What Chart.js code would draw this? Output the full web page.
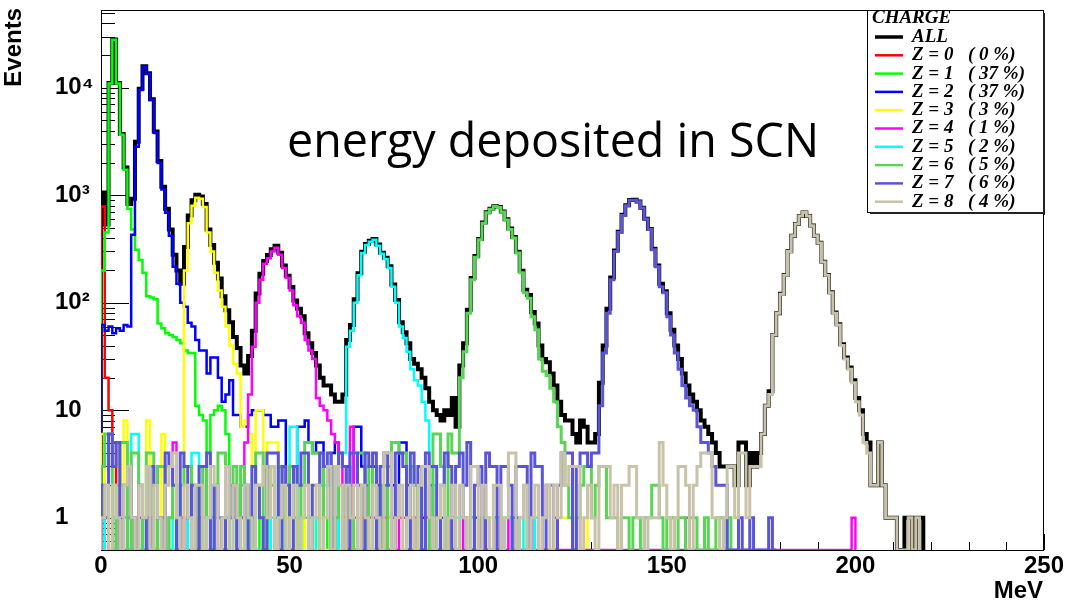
<!DOCTYPE html>
<html>
<head>
<meta charset="utf-8">
<title>energy deposited in SCN</title>
<script src="https://cdn.jsdelivr.net/npm/chart.js@4.4.1/dist/chart.umd.min.js"></script>
<style>
  html, body { margin: 0; padding: 0; background: #ffffff; }
  #wrap { position: relative; width: 1067px; height: 606px; }
</style>
</head>
<body>
<div id="wrap"><canvas id="chartCharge"></canvas></div>
<script>
  // histograms with 1 MeV bins, bin i covers [i, i+1) MeV
  const binWidth = 1;

  const allCounts = [
    1060, 535, 11100, 28100, 11100, 3720, 1810, 830, 930, 3150,
    9830, 15900, 13650, 7830, 3920, 2080, 1200, 750, 480, 280,
    200, 150, 330, 650, 900, 1010, 975, 830, 480, 345,
    235, 168, 115, 85, 66, 48, 38, 26, 22, 32,
    55, 122, 186, 245, 278, 315, 340, 292, 222, 178,
    140, 105, 88, 75, 52, 42, 34, 26, 20, 17,
    17, 14, 12, 12, 14, 45, 62, 108, 188, 298,
    352, 378, 392, 348, 292, 262, 218, 148, 106, 66,
    53, 42, 30, 27, 24, 20, 16, 12, 10, 9,
    8, 10, 9, 13, 7, 26, 42, 86, 170, 272,
    392, 558, 695, 748, 792, 778, 708, 598, 490, 408,
    298, 198, 132, 118, 82, 64, 40, 30, 28, 22,
    17, 12, 9, 8, 8, 6, 5, 8, 7, 5,
    5, 6, 18, 40, 88, 172, 306, 458, 658, 806,
    906, 908, 876, 766, 606, 486, 318, 222, 150, 128,
    80, 56, 40, 30, 22, 17, 14, 12, 10, 8,
    7, 6, 5, 4, 3, 3, 3, 3, 2, 5,
    5, 2, 4, 3, 4, 6, 11, 15, 50, 80,
    121, 181, 301, 421, 541, 641, 692, 642, 522, 421,
    361, 241, 181, 125, 81, 63, 41, 31, 25, 19,
    13, 10, 6, 5, 2, 2, 5, 2, 1, 1,
    1, 0, 0, 1, 1, 0, 1, 1
  ];

  const z0Counts = [
    785, 20, 10, 5, 2, 0, 1, 0, 0, 1,
    0, 0, 1, 0, 0, 0, 1, 0, 0, 0,
    0, 1, 0, 0, 0, 0, 1
  ];

  const z1Counts = [
    200, 450, 11000, 28000, 11000, 3650, 1730, 750, 480, 311,
    250, 190, 115, 112, 108, 64, 58, 52, 50, 48,
    45, 42, 36, 34, 34, 11, 9, 8, 4, 9,
    10, 11, 10, 6, 2, 2, 1, 2, 1, 0,
    1, 0, 1, 1, 0, 2, 1, 0, 1, 0,
    0, 1, 0, 0, 1, 0, 1, 0, 0, 1,
    0, 0, 1, 0, 0, 0, 1, 0, 0, 0,
    1, 0, 0, 0, 0, 1, 0, 0, 0, 0,
    0, 0, 1, 0, 0, 0, 0, 0, 1, 0,
    0, 0, 0, 0, 0, 0, 1, 1
  ];

  const z2Counts = [
    62, 55, 60, 52, 58, 55, 62, 60, 430, 2830,
    9560, 15700, 13500, 7700, 3800, 2000, 1130, 687, 420, 216,
    150, 100, 92, 65, 60, 45, 36, 36, 22, 31,
    31, 20, 12, 14, 19, 9, 9, 7, 7, 9,
    10, 10, 10, 9, 9, 7, 7, 8, 8, 2,
    1, 3, 7, 7, 8, 5, 4, 5, 5, 3,
    2, 4, 5, 2, 1, 3, 2, 7, 7, 3,
    2, 1, 3, 2, 1, 2, 1, 2, 1, 5,
    5, 2, 1, 1, 2, 1, 1, 2, 1, 0,
    1, 0, 1, 1, 0, 2, 1, 0, 0, 1,
    0, 1, 0, 0, 1, 1, 0, 0, 0, 1,
    1
  ];

  const z3Counts = [
    6, 1, 0, 1, 0, 0, 8, 1, 0, 1,
    0, 1, 8, 1, 0, 0, 6, 0, 1, 0,
    1, 0, 200, 550, 800, 948, 930, 780, 450, 300,
    190, 130, 92, 60, 40, 27, 22, 7, 8, 6,
    3, 10, 10, 2, 5, 5, 5, 1, 2, 1,
    1, 0, 1, 0, 2, 2, 1, 0, 1, 0,
    0, 1, 0, 0, 1, 0, 0, 2, 1, 0,
    1, 0, 0, 1, 0, 0, 1, 0, 0, 1,
    0, 0, 1, 0, 1, 0, 0, 0, 1, 0,
    0, 1, 0, 1, 1, 0, 0, 1, 0, 0,
    1, 0, 0, 1, 0, 0, 1, 0, 0, 0,
    0, 1, 0, 0, 0, 1, 0, 0, 0, 0,
    0, 1, 1, 1, 1, 0, 0, 0, 1
  ];

  const z4Counts = [
    0, 1, 0, 0, 1, 0, 0, 1, 0, 0,
    1, 0, 0, 1, 0, 1, 0, 0, 1, 5,
    0, 1, 0, 1, 0, 0, 1, 3, 0, 1,
    0, 1, 0, 0, 1, 1, 0, 1, 5, 14,
    39, 100, 164, 230, 260, 300, 325, 280, 210, 170,
    130, 95, 75, 65, 45, 36, 30, 13, 11, 10,
    8, 6, 5, 4, 0, 0, 7, 1, 0, 1,
    0, 1, 1, 0, 0, 1, 0, 1, 0, 1,
    1, 0, 0, 1, 0, 0, 1, 0, 0, 1,
    0, 0, 1, 0, 0, 1, 0, 0, 1, 0,
    0, 1, 0, 0, 1, 0, 0, 0, 1, 0,
    0, 0, 0, 0, 1, 0, 0, 0, 0, 0,
    1, 0, 0, 0, 0, 0, 1, 0, 0, 0,
    0, 0, 0, 0, 0, 0, 0, 0, 0, 0,
    0, 0, 0, 0, 0, 0, 0, 0, 0, 0,
    0, 0, 0, 0, 0, 1, 0, 0, 0, 0,
    0, 0, 0, 0, 0, 0, 0, 0, 0, 0,
    0, 0, 0, 0, 0, 0, 0, 0, 0, 0,
    0, 0, 0, 0, 0, 0, 0, 0, 0, 0,
    0, 0, 0, 0, 0, 0, 0, 0, 0, 1
  ];

  const z5Counts = [
    0, 1, 0, 1, 0, 0, 1, 0, 6, 6,
    0, 1, 0, 1, 0, 1, 0, 0, 1, 0,
    1, 0, 0, 1, 4, 4, 0, 1, 0, 1,
    0, 0, 1, 1, 0, 1, 0, 0, 1, 0,
    1, 0, 0, 1, 0, 1, 1, 0, 0, 0,
    7, 7, 1, 2, 2, 1, 0, 1, 2, 2,
    2, 1, 0, 4, 4, 39, 55, 100, 180, 290,
    345, 370, 385, 340, 285, 255, 210, 141, 100, 60,
    47, 35, 24, 19, 17, 12, 8, 3, 2, 1,
    0, 1, 1, 0, 1, 1, 1, 0, 1, 0,
    0, 1, 1, 0, 1, 1, 0, 1, 1, 0,
    0, 1, 0, 1, 0, 1
  ];

  const z6Counts = [
    3, 6, 6, 0, 2, 5, 5, 0, 4, 4,
    2, 0, 4, 4, 0, 3, 3, 0, 1, 2,
    0, 2, 3, 3, 0, 2, 0, 3, 1, 0,
    2, 4, 4, 0, 1, 3, 0, 3, 2, 0,
    1, 4, 4, 0, 3, 2, 0, 3, 2, 0,
    3, 3, 0, 2, 5, 5, 4, 4, 0, 3,
    3, 0, 1, 2, 0, 2, 1, 0, 4, 4,
    0, 3, 2, 0, 2, 0, 3, 5, 5, 4,
    4, 0, 3, 2, 0, 3, 3, 0, 6, 6,
    3, 0, 6, 4, 4, 20, 35, 80, 164, 265,
    385, 550, 687, 740, 785, 770, 700, 590, 480, 400,
    290, 190, 124, 110, 74, 56, 30, 23, 21, 16,
    12, 7, 5, 2, 1, 0, 1, 2, 3, 3,
    1, 2, 3, 3, 1, 1, 1, 0, 1, 1,
    0, 1, 1, 0, 1, 1, 2, 2, 1, 0,
    1, 1, 0, 1, 1, 0, 1, 1, 0, 0,
    1, 0, 0, 1, 1, 0, 1
  ];

  const z7Counts = [
    2, 1, 6, 3, 5, 0, 2, 3, 1, 0,
    2, 1, 0, 3, 2, 1, 0, 4, 3, 2,
    0, 4, 3, 1, 2, 0, 3, 3, 4, 0,
    2, 1, 0, 3, 1, 2, 0, 1, 2, 0,
    3, 2, 1, 0, 4, 4, 4, 0, 3, 2,
    0, 3, 2, 4, 4, 0, 2, 2, 4, 3,
    4, 0, 3, 4, 3, 0, 4, 4, 2, 0,
    4, 3, 4, 0, 3, 4, 2, 0, 4, 4,
    3, 0, 4, 2, 3, 0, 4, 3, 3, 0,
    2, 4, 3, 0, 3, 4, 2, 5, 0, 2,
    3, 0, 4, 3, 3, 0, 3, 3, 2, 0,
    3, 3, 3, 0, 4, 3, 3, 0, 2, 2,
    0, 2, 4, 4, 4, 0, 3, 4, 4, 3,
    4, 4, 11, 34, 80, 164, 300, 450, 650, 800,
    900, 900, 870, 760, 600, 480, 311, 216, 141, 124,
    74, 50, 34, 24, 17, 13, 11, 10, 7, 5,
    5, 4, 3, 2, 2, 2, 0, 0, 0, 1,
    0, 0, 1, 0, 0, 0, 0, 1, 0
  ];

  const z8Counts = [
    1, 2, 0, 2, 1, 0, 2, 3, 1, 0,
    2, 1, 3, 0, 2, 1, 0, 2, 3, 4,
    1, 0, 2, 1, 0, 2, 2, 0, 1, 3,
    2, 0, 1, 3, 0, 2, 1, 0, 2, 1,
    0, 2, 2, 3, 1, 3, 0, 1, 2, 0,
    1, 2, 0, 1, 2, 0, 1, 2, 0, 1,
    3, 0, 3, 2, 0, 2, 1, 2, 0, 2,
    1, 0, 2, 1, 0, 4, 4, 0, 1, 2,
    0, 1, 2, 0, 2, 3, 3, 1, 0, 1,
    2, 0, 1, 2, 0, 2, 1, 0, 3, 3,
    0, 2, 1, 0, 2, 2, 0, 1, 4, 4,
    0, 1, 2, 0, 1, 2, 0, 1, 2, 0,
    2, 1, 4, 2, 3, 3, 3, 0, 1, 2,
    1, 0, 3, 3, 3, 1, 2, 0, 2, 2,
    3, 3, 1, 1, 0, 1, 1, 1, 5, 2,
    1, 0, 1, 3, 3, 2, 0, 2, 3, 4,
    4, 4, 1, 1, 0, 1, 3, 3, 1, 4,
    4, 1, 3, 3, 3, 6, 11, 14, 50, 80,
    120, 180, 300, 420, 540, 640, 690, 640, 520, 420,
    360, 240, 180, 124, 80, 62, 40, 30, 24, 18,
    12, 9, 5, 4, 2, 2, 5, 2, 1, 1,
    1, 0, 0, 0, 1, 0, 1
  ];

  const seriesCounts = [allCounts, z0Counts, z1Counts, z2Counts, z3Counts,
    z4Counts, z5Counts, z6Counts, z7Counts, z8Counts];
  const seriesLabels = ["ALL", "Z = 0", "Z = 1", "Z = 2", "Z = 3",
    "Z = 4", "Z = 5", "Z = 6", "Z = 7", "Z = 8"];
  const seriesShares = ["", "( 0 %)", "( 37 %)", "( 37 %)", "( 3 %)",
    "( 1 %)", "( 2 %)", "( 5 %)", "( 6 %)", "( 4 %)"];

  const xTickValues = [0, 50, 100, 150, 200, 250];
  const xTickLabels = ["0", "50", "100", "150", "200", "250"];
  const yTickValues = [1, 10, 100, 1000, 10000];
  const yTickLabels = ["1", "10", "10²", "10³", "10⁴"];

  // styles
  const seriesColors = ["#000000", "#ff0000", "#00ff00", "#0000ff", "#ffff00",
    "#ff00ff", "#00ffff", "#59d454", "#5954d9", "#c8c2a8"];
  const seriesWidths = [4, 2.5, 2.5, 2.5, 2.5, 2.5, 2.5, 3, 3, 3];

  const xMin = 0, xMax = 250;
  const yMin = 0.5, yMax = 53000;

  const axisFont = { family: "'Liberation Sans', Arial, sans-serif", size: 24, weight: "bold" };
  const legendFont = "italic bold 19px 'Liberation Serif', 'Times New Roman', serif";

  // ROOT style: empty bins sit on the bottom edge of the frame
  function histPoints(counts) {
    const pts = [{ x: 0, y: yMin }];
    counts.forEach(function (c, i) {
      pts.push({ x: i * binWidth, y: c > 0 ? c : yMin });
    });
    const n = counts.length;
    const last = counts[n - 1];
    pts.push({ x: n * binWidth, y: last > 0 ? last : yMin });
    pts.push({ x: n * binWidth, y: yMin });
    return pts;
  }

  const datasets = seriesCounts.map(function (counts, i) {
    return {
      label: seriesLabels[i],
      data: histPoints(counts),
      borderColor: seriesColors[i],
      backgroundColor: seriesColors[i],
      borderWidth: seriesWidths[i],
      pointRadius: 0,
      stepped: "before",
      tension: 0,
      fill: false,
      // ALL first (underneath), Z = 8 last (on top)
      order: seriesCounts.length - i,
    };
  });

  // frame, inner ticks, legend box and labels
  const rootDecor = {
    id: "rootDecor",
    beforeDatasetsDraw(chart) {
      const { ctx, chartArea: a, scales } = chart;
      ctx.save();
      ctx.strokeStyle = "#000000";
      ctx.lineWidth = 1;
      ctx.strokeRect(a.left + 0.5, a.top + 0.5, a.right - a.left - 1, a.bottom - a.top);
      ctx.beginPath();
      for (let k = -1; k <= 4; k++) {
        for (let d = 1; d <= 9; d++) {
          const v = d * Math.pow(10, k);
          if (v < yMin || v > yMax) continue;
          const y = Math.round(scales.y.getPixelForValue(v)) + 0.5;
          ctx.moveTo(a.left, y);
          ctx.lineTo(a.left + (d === 1 ? 28 : 14), y);
        }
      }
      for (let e = xMin; e <= xMax; e += 10) {
        const x = Math.round(scales.x.getPixelForValue(e)) + 0.5;
        ctx.moveTo(x, a.bottom);
        ctx.lineTo(x, a.bottom - (e % 50 === 0 ? 16 : 8));
      }
      ctx.stroke();
      ctx.restore();
    },
    afterDraw(chart) {
      const { ctx, chartArea: a } = chart;
      ctx.save();

      // axis titles
      ctx.fillStyle = "#000000";
      ctx.font = "bold 24px 'Liberation Sans', Arial, sans-serif";
      ctx.textAlign = "right";
      ctx.textBaseline = "alphabetic";
      ctx.fillText("MeV", a.right - 1, 598);
      ctx.save();
      ctx.translate(21, a.top - 2);
      ctx.rotate(-Math.PI / 2);
      ctx.textAlign = "right";
      ctx.fillText("Events", 0, 0);
      ctx.restore();

      // annotation
      ctx.font = "47px 'Open Sans', 'Noto Sans', sans-serif";
      ctx.textAlign = "left";
      ctx.fillText("energy deposited in SCN", 287, 157, 532);

      // legend box
      const lw = 177, lh = 203;
      const lx = a.right - lw, ly = a.top;
      ctx.fillStyle = "#ffffff";
      ctx.fillRect(lx, ly, lw, lh);
      ctx.strokeStyle = "#000000";
      ctx.lineWidth = 1;
      ctx.strokeRect(lx + 0.5, ly + 0.5, lw - 1, lh - 1);
      ctx.fillStyle = "#222222";
      ctx.fillRect(lx + 3, ly + lh - 1, lw - 3, 2);
      ctx.fillRect(a.right - 1, ly + 3, 2, lh - 1);

      ctx.fillStyle = "#000000";
      ctx.font = legendFont;
      ctx.textBaseline = "middle";
      ctx.fillText("CHARGE", lx + 5, ly + 8);
      const rowH = 18.3;
      seriesLabels.forEach(function (label, i) {
        const y = ly + 27 + i * rowH;
        ctx.strokeStyle = seriesColors[i];
        ctx.lineWidth = i === 0 ? 3.5 : 2.5;
        ctx.beginPath();
        ctx.moveTo(lx + 8, y);
        ctx.lineTo(lx + 36, y);
        ctx.stroke();
        ctx.fillStyle = "#000000";
        ctx.fillText(label, lx + 45, y);
        if (seriesShares[i]) ctx.fillText(seriesShares[i], lx + 101, y);
      });
      ctx.restore();
    },
  };

  const ctx = document.getElementById("chartCharge").getContext("2d");
  const chartCharge = new Chart(ctx, {
    type: "line",
    data: { datasets: datasets },
    options: {
      responsive: true,
      maintainAspectRatio: false,
      animation: false,
      events: [],
      layout: { padding: { left: 55, right: 23, top: 10, bottom: 0 } },
      scales: {
        x: {
          type: "linear",
          min: xMin,
          max: xMax,
          afterFit: function (scale) {
            scale.height = 56;
            scale.paddingLeft = 0;
            scale.paddingRight = 0;
          },
          afterBuildTicks: function (scale) {
            scale.ticks = xTickValues.map(function (v) { return { value: v }; });
          },
          grid: { display: false, drawTicks: false },
          border: { display: false },
          ticks: {
            autoSkip: false,
            maxRotation: 0,
            padding: 2,
            color: "#000000",
            font: axisFont,
            callback: function (v, i) { return xTickLabels[i]; },
          },
        },
        y: {
          type: "logarithmic",
          min: yMin,
          max: yMax,
          afterFit: function (scale) {
            scale.width = 46;
            scale.paddingTop = 0;
            scale.paddingBottom = 0;
          },
          afterBuildTicks: function (scale) {
            scale.ticks = yTickValues.map(function (v) { return { value: v }; });
          },
          grid: { display: false, drawTicks: false },
          border: { display: false },
          ticks: {
            autoSkip: false,
            crossAlign: "far",
            padding: 8,
            color: "#000000",
            font: axisFont,
            callback: function (v, i) { return yTickLabels[i]; },
          },
        },
      },
      plugins: {
        legend: { display: false },
        tooltip: { enabled: false },
      },
    },
    plugins: [rootDecor],
  });
</script>
</body>
</html>
